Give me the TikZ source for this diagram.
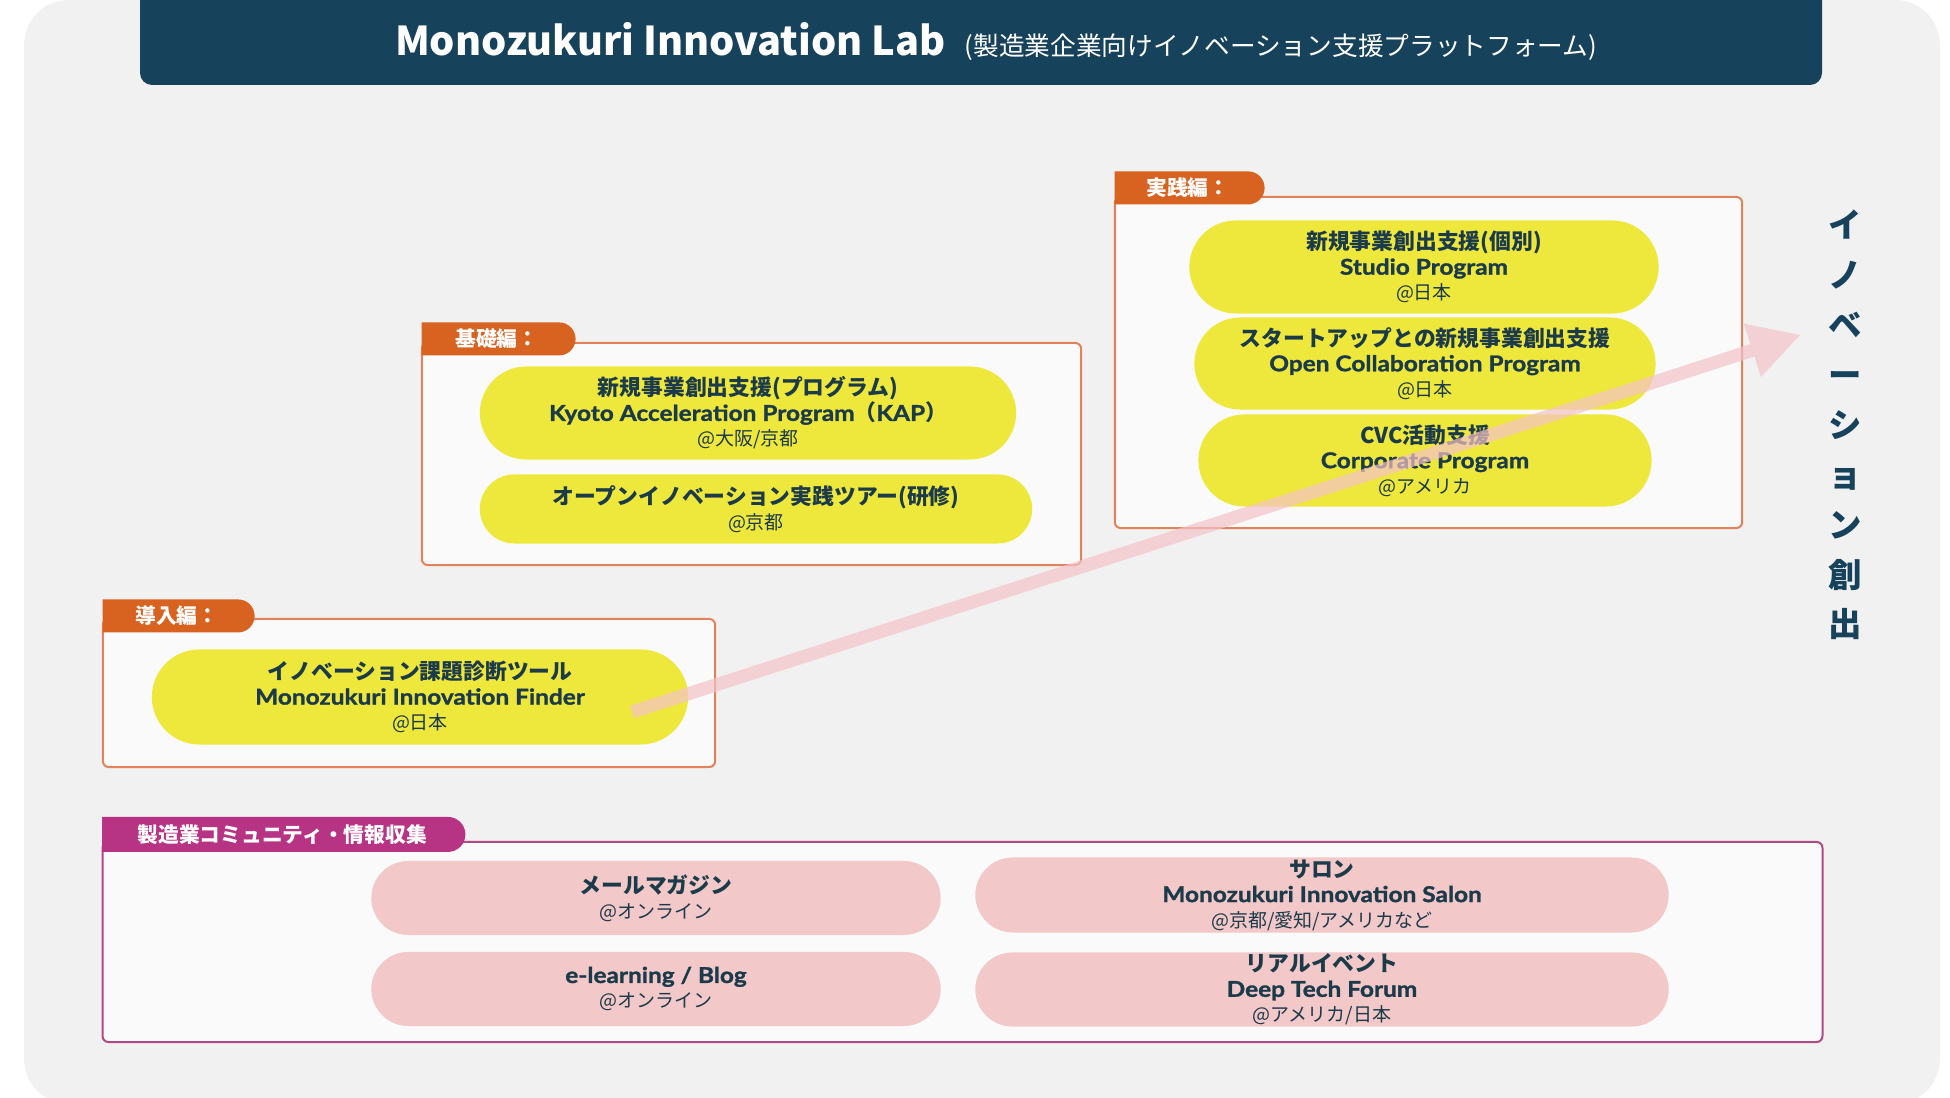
\documentclass[tikz,border=0pt]{standalone}
\usepackage{fontspec}
\setmainfont{Noto Sans CJK JP}
\newfontfamily\lat{Lato}[UprightFont={* Bold}, BoldFont={* Bold}, UprightFeatures={FakeBold=1.3, FakeStretch=1.12}, BoldFeatures={FakeBold=1.3, FakeStretch=1.12}]
\usetikzlibrary{shapes.misc,calc}
\definecolor{bggray}{HTML}{F1F1F1}
\definecolor{bannernavy}{HTML}{17425B}
\definecolor{textnavy}{HTML}{1B3A4A}
\definecolor{taborange}{HTML}{D8621F}
\definecolor{boxorange}{HTML}{E2825A}
\definecolor{boxwhite}{HTML}{FAFAFA}
\definecolor{pillyellow}{HTML}{EFE83C}
\definecolor{pillpink}{HTML}{F2C8C8}
\definecolor{tabmagenta}{HTML}{B73383}
\definecolor{boxmagenta}{HTML}{B04A86}
\definecolor{arrowpink}{HTML}{F4C2C8}
\newcommand{\venue}[1]{{\mdseries\fontsize{5.4pt}{6.8pt}\selectfont #1}}
\tikzset{
  stagebox/.style={draw=boxorange, line width=0.02cm, fill=boxwhite, rounded corners=0.06cm, inner sep=0pt},
  groupbox/.style={stagebox, draw=boxmagenta},
  stagetab/.style={rounded rectangle, rounded rectangle left arc=none, fill=taborange, text=white,
    font=\bfseries\fontsize{5.9pt}{7pt}\selectfont, minimum height=0.33cm, inner sep=0pt, anchor=west},
  grouptab/.style={stagetab, fill=tabmagenta, minimum height=0.35cm},
  yellowpill/.style={rounded rectangle, fill=pillyellow, text=textnavy, align=center, inner sep=0pt,
    font=\bfseries\fontsize{6.2pt}{7.1pt}\selectfont},
  pinkpill/.style={yellowpill, fill=pillpink},
  risearrow/.style={fill=arrowpink, fill opacity=0.7},
  risetext/.style={text=bannernavy, align=center, font=\bfseries\fontsize{9.5pt}{14.2pt}\selectfont}
}
\begin{document}
\begin{tikzpicture}[x=0.01cm,y=-0.01cm]
\useasboundingbox (0,0) rectangle (1950,1098);
\fill[white] (0,0) rectangle (1950,1098);
\fill[bggray, rounded corners=0.45cm] (24,0) rectangle (1940,1104);
\fill[bannernavy, rounded corners=0.12cm] (140,-30) rectangle (1822,85);
\node[text=white, anchor=base, inner sep=0pt] (title) at (996,56)
  {{\bfseries\fontsize{11.3pt}{15pt}\selectfont Monozukuri Innovation Lab}\hspace{0.19cm}{\fontsize{7.3pt}{9pt}\selectfont (製造業企業向けイノベーション支援プラットフォーム)}};

\node[stagebox, minimum width=6.12cm, minimum height=1.48cm] (intro) at (409,693) {};
\node[stagetab, minimum width=1.52cm] (introtab) at ([yshift=0.02cm]intro.north west) {導入編：};
\node[stagebox, minimum width=6.59cm, minimum height=2.22cm] (basic) at (751.5,454) {};
\node[stagetab, minimum width=1.54cm] (basictab) at ([yshift=0.03cm]basic.north west) {基礎編：};
\node[stagebox, minimum width=6.27cm, minimum height=3.31cm] (practice) at (1428.5,362.5) {};
\node[stagetab, minimum width=1.50cm] (practicetab) at ([yshift=0.08cm]practice.north west) {実践編：};
\node[groupbox, minimum width=17.19cm, minimum height=2.00cm] (community) at (962.5,942) {};
\node[grouptab, minimum width=3.63cm] (communitytab) at ([yshift=0.065cm]community.north west) {製造業コミュニティ・情報収集};

\node[yellowpill, minimum width=5.36cm, minimum height=0.95cm] (finder) at (420,697)
  {イノベーション課題診断ツール\\{\lat Monozukuri Innovation Finder}\\\venue{@日本}};
\node[yellowpill, minimum width=5.36cm, minimum height=0.93cm] (kap) at (748,413)
  {新規事業創出支援(プログラム)\\{\lat Kyoto Acceleration Program}（{\lat KAP}）\\\venue{@大阪/京都}};
\node[yellowpill, minimum width=5.52cm, minimum height=0.69cm] (tour) at (756,509)
  {オープンイノベーション実践ツアー(研修)\\\venue{@京都}};
\node[yellowpill, minimum width=4.69cm, minimum height=0.93cm] (studio) at (1424,267)
  {新規事業創出支援(個別)\\{\lat Studio Program}\\\venue{@日本}};
\node[yellowpill, minimum width=4.61cm, minimum height=0.92cm] (opencollab) at (1425,363.5)
  {スタートアップとの新規事業創出支援\\{\lat Open Collaboration Program}\\\venue{@日本}};
\node[yellowpill, minimum width=4.53cm, minimum height=0.92cm] (corporate) at (1425,460.5)
  {CVC活動支援\\{\lat Corporate Program}\\\venue{@アメリカ}};

\node[pinkpill, minimum width=5.69cm, minimum height=0.74cm] (mailmag) at (656,898)
  {メールマガジン\\\venue{@オンライン}};
\node[pinkpill, minimum width=5.69cm, minimum height=0.74cm] (elearning) at (656,989)
  {{\lat e-learning / Blog}\\\venue{@オンライン}};
\node[pinkpill, minimum width=6.93cm, minimum height=0.75cm] (salon) at (1322,895)
  {サロン\\{\lat Monozukuri Innovation Salon}\\\venue{@京都/愛知/アメリカなど}};
\node[pinkpill, minimum width=6.93cm, minimum height=0.74cm] (deeptech) at (1322,989.5)
  {リアルイベント\\{\lat Deep Tech Forum}\\\venue{@アメリカ/日本}};

\coordinate (risestart) at (632,712);
\coordinate (risetip) at (1800,335);
\coordinate (risehead) at ($(risetip)!0.5cm!(risestart)$);
\fill[risearrow] ($(risestart)!0.065cm!90:(risetip)$) -- ($(risehead)!0.065cm!90:(risetip)$)
  -- ($(risehead)!0.28cm!90:(risetip)$) -- (risetip) -- ($(risehead)!0.28cm!-90:(risetip)$)
  -- ($(risehead)!0.065cm!-90:(risetip)$) -- ($(risestart)!0.065cm!-90:(risetip)$) -- cycle;

\node[risetext] (rise) at (1845,425) {イ\\ノ\\ベ\\ー\\シ\\ョ\\ン\\創\\出};
\end{tikzpicture}
\end{document}
